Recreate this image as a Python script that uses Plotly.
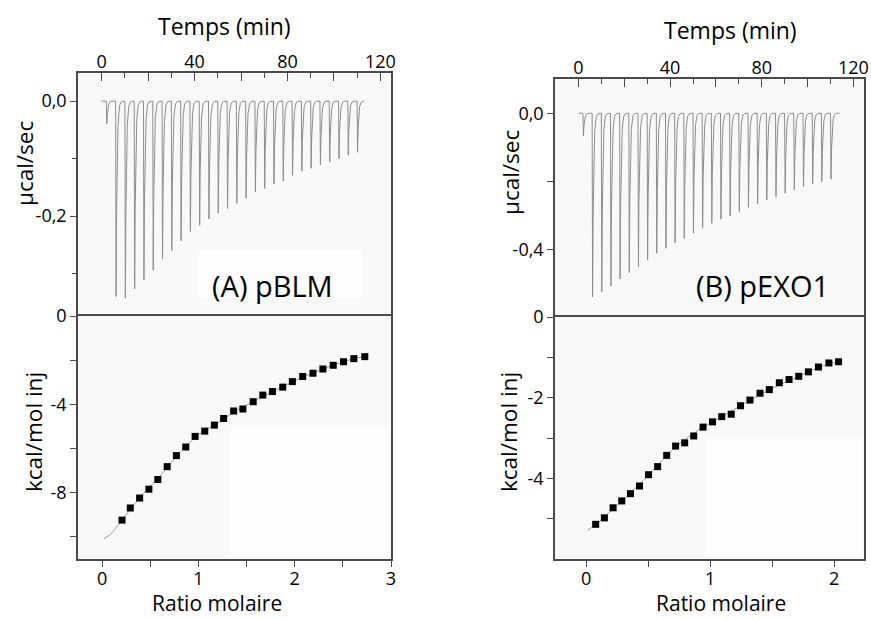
import numpy as np
import plotly.graph_objects as go

# ---------------- data ----------------
# Thermograms (injection time in min, peak depth in µcal/sec)
inj_time_A = [2, 6, 10, 14, 18, 22, 26, 30, 34, 38, 42, 46, 50, 54, 58, 62, 66, 70, 74, 78, 82, 86, 90, 94, 98, 102, 106, 110]
peak_A = [-0.039, -0.340, -0.343, -0.327, -0.311, -0.294, -0.275, -0.260, -0.243, -0.227, -0.216, -0.205, -0.195, -0.187,
          -0.178, -0.169, -0.158, -0.152, -0.144, -0.139, -0.129, -0.122, -0.117, -0.111, -0.106, -0.100, -0.094, -0.089]
end_time_A = 113

inj_time_B = [2, 6, 10, 14, 18, 22, 26, 30, 34, 38, 42, 46, 50, 54, 58, 62, 66, 70, 74, 78, 82, 86, 90, 94, 98, 102, 106, 110]
peak_B = [-0.066, -0.537, -0.522, -0.505, -0.485, -0.466, -0.449, -0.430, -0.410, -0.395, -0.379, -0.366, -0.351, -0.335,
          -0.322, -0.310, -0.301, -0.288, -0.275, -0.266, -0.254, -0.244, -0.234, -0.224, -0.215, -0.207, -0.200, -0.193]
end_time_B = 114

# Binding isotherms (molar ratio, kcal/mol of injectant)
ratio_A = [0.207, 0.293, 0.390, 0.486, 0.579, 0.676, 0.772, 0.869, 0.966, 1.066, 1.166, 1.262, 1.366, 1.462, 1.569,
           1.669, 1.769, 1.876, 1.976, 2.083, 2.190, 2.293, 2.400, 2.507, 2.614, 2.728]
heat_A = [-9.24, -8.69, -8.24, -7.84, -7.40, -6.82, -6.32, -5.93, -5.45, -5.21, -4.94, -4.64, -4.30, -4.21, -3.88,
          -3.58, -3.42, -3.22, -2.97, -2.74, -2.59, -2.40, -2.23, -2.07, -1.93, -1.84]
fit_ratio_A = [0.02, 0.086, 0.138, 0.207, 0.40, 0.60, 0.80, 1.00, 1.20, 1.40, 1.60, 1.80, 2.00, 2.20, 2.40, 2.60, 2.73]
fit_heat_A = [-10.07, -9.89, -9.62, -9.24, -8.18, -7.25, -6.22, -5.38, -4.85, -4.27, -3.80, -3.38, -2.93, -2.57, -2.23, -1.95, -1.83]

ratio_B = [0.078, 0.148, 0.218, 0.288, 0.358, 0.431, 0.504, 0.577, 0.650, 0.722, 0.795, 0.868, 0.943, 1.019, 1.094,
           1.170, 1.245, 1.321, 1.402, 1.477, 1.558, 1.636, 1.714, 1.792, 1.873, 1.957, 2.035]
heat_B = [-5.14, -4.98, -4.73, -4.56, -4.38, -4.19, -3.91, -3.71, -3.43, -3.20, -3.12, -2.95, -2.73, -2.60, -2.47,
          -2.41, -2.20, -2.06, -1.89, -1.80, -1.63, -1.55, -1.47, -1.36, -1.24, -1.14, -1.11]
fit_ratio_B = [0.013, 0.078, 0.30, 0.50, 0.70, 0.90, 1.10, 1.30, 1.50, 1.70, 1.90, 2.035]
fit_heat_B = [-5.29, -5.14, -4.53, -3.93, -3.28, -2.82, -2.46, -2.10, -1.77, -1.49, -1.22, -1.11]

# tick labels
time_tickvals = [0, 20, 40, 60, 80, 100, 120]
time_ticktext = ["0", "", "40", "", "80", "", "120"]
time_minor = [10, 30, 50, 70, 90, 110]
powA_tickvals = [0.0, -0.2]
powA_ticktext = ["0,0", "-0,2"]
powA_minor = [-0.1, -0.3]
powB_tickvals = [0.0, -0.2, -0.4]
powB_ticktext = ["0,0", "", "-0,4"]
heatA_tickvals = [0, -2, -4, -6, -8, -10]
heatA_ticktext = ["0", "", "-4", "", "-8", ""]
heatB_tickvals = [0, -1, -2, -3, -4, -5]
heatB_ticktext = ["0", "", "-2", "", "-4", ""]
ratioA_tickvals = [0, 0.5, 1, 1.5, 2, 2.5, 3]
ratioA_ticktext = ["0", "", "1", "", "2", "", "3"]
ratioB_tickvals = [0, 0.5, 1, 1.5, 2]
ratioB_ticktext = ["0", "", "1", "", "2"]


def thermogram(times, depths, t_end):
    t = np.arange(0, t_end, 0.02)
    y = np.zeros_like(t)
    rise = 0.2
    tau = 0.4
    for ti, d in zip(times, depths):
        m1 = (t >= ti) & (t < ti + rise)
        y[m1] += d * (t[m1] - ti) / rise
        m2 = t >= ti + rise
        y[m2] += d * np.exp(-(t[m2] - ti - rise) / tau)
    return t, y


W, H = 871, 619
def fx(px):
    return px / W
def fy(py):
    return 1 - py / H

FONT = "Open Sans"
LINE = "#4a4a4a"
TICKFONT = dict(family=FONT, size=18, color="black")

fig = go.Figure()

tA, yA = thermogram(inj_time_A, peak_A, end_time_A)
tB, yB = thermogram(inj_time_B, peak_B, end_time_B)

fig.add_trace(go.Scatter(x=tA, y=yA, mode="lines", line=dict(color="#8c8c8c", width=1), xaxis="x", yaxis="y", showlegend=False))
fig.add_trace(go.Scatter(x=fit_ratio_A, y=fit_heat_A, mode="lines", line=dict(color="#a0a0a0", width=1, shape="spline"),
                         xaxis="x2", yaxis="y2", showlegend=False))
fig.add_trace(go.Scatter(x=ratio_A, y=heat_A, mode="markers", marker=dict(symbol="square", size=7, color="black"),
                         xaxis="x2", yaxis="y2", showlegend=False))
fig.add_trace(go.Scatter(x=tB, y=yB, mode="lines", line=dict(color="#8c8c8c", width=1), xaxis="x3", yaxis="y3", showlegend=False))
fig.add_trace(go.Scatter(x=fit_ratio_B, y=fit_heat_B, mode="lines", line=dict(color="#a0a0a0", width=1, shape="spline"),
                         xaxis="x4", yaxis="y4", showlegend=False))
fig.add_trace(go.Scatter(x=ratio_B, y=heat_B, mode="markers", marker=dict(symbol="square", size=7, color="black"),
                         xaxis="x4", yaxis="y4", showlegend=False))


def axis(**kw):
    base = dict(showgrid=False, zeroline=False, showline=True, linecolor=LINE, linewidth=1.5,
                tickcolor=LINE, tickwidth=1.4, tickfont=TICKFONT, ticks="outside", ticklen=6,
                mirror=True, tickmode="array", automargin=False)
    base.update(kw)
    return base


def inside(**kw):
    base = dict(showgrid=False, zeroline=False, showline=False, ticks="inside", ticklen=6,
                tickcolor=LINE, tickwidth=1.4, showticklabels=False, tickmode="array", automargin=False)
    base.update(kw)
    return base


dAx = [fx(78), fx(391)]
dBx = [fx(555), fx(864)]
dAtop = [fy(316), fy(73)]
dAbot = [fy(559), fy(316)]
dBtop = [fy(317), fy(79)]
dBbot = [fy(559), fy(317)]

xr_time = [-10.2, 124.6]
yrA_top = [-0.374, 0.049]
yrB_top = [-0.596, 0.100]
xrA_bot = [-0.25, 3.0]
xrB_bot = [-0.25, 2.24]
yrA_bot = [-11, 0]
yrB_bot = [-6, 0]

minor_time = dict(tickvals=time_minor, ticks="inside", ticklen=5, tickcolor=LINE, tickwidth=1.4)

fig.update_layout(
    width=W, height=H, margin=dict(l=0, r=0, t=0, b=0, pad=0, autoexpand=False),
    paper_bgcolor="white", plot_bgcolor="#f8f8f8",
    showlegend=False,
    xaxis=axis(domain=dAx, anchor="y", side="top", range=xr_time, tickvals=time_tickvals, mirror=False,
               ticktext=time_ticktext, ticks="inside", ticklen=8, minor=minor_time, ticklabelstandoff=-4),
    yaxis=axis(domain=dAtop, anchor="x", range=yrA_top, tickvals=powA_tickvals, ticktext=powA_ticktext,
               minor=dict(tickvals=powA_minor, ticks="outside", ticklen=4, tickcolor=LINE, tickwidth=1.4)),
    xaxis2=axis(domain=dAx, anchor="y2", range=xrA_bot, tickvals=ratioA_tickvals, ticktext=ratioA_ticktext,
                ticklabelstandoff=-3),
    yaxis2=axis(domain=dAbot, anchor="x2", range=yrA_bot, tickvals=heatA_tickvals, ticktext=heatA_ticktext),
    xaxis3=axis(domain=dBx, anchor="y3", side="top", range=xr_time, tickvals=time_tickvals, mirror=False,
                ticktext=time_ticktext, ticks="inside", ticklen=8, minor=minor_time, ticklabelstandoff=-4),
    yaxis3=axis(domain=dBtop, anchor="x3", range=yrB_top, tickvals=powB_tickvals, ticktext=powB_ticktext),
    xaxis4=axis(domain=dBx, anchor="y4", range=xrB_bot, tickvals=ratioB_tickvals, ticktext=ratioB_ticktext,
                ticklabelstandoff=-3),
    yaxis4=axis(domain=dBbot, anchor="x4", range=yrB_bot, tickvals=heatB_tickvals, ticktext=heatB_ticktext),
    # inside ticks on mirrored sides
    yaxis5=inside(overlaying="y", anchor="x", side="right", range=yrA_top, tickvals=powA_tickvals + powA_minor),
    yaxis6=inside(overlaying="y2", anchor="x2", side="right", range=yrA_bot, tickvals=heatA_tickvals),
    yaxis7=inside(overlaying="y3", anchor="x3", side="right", range=yrB_top, tickvals=powB_tickvals),
    yaxis8=inside(overlaying="y4", anchor="x4", side="right", range=yrB_bot, tickvals=heatB_tickvals),
    xaxis5=inside(overlaying="x2", anchor="y2", side="top", range=xrA_bot, tickvals=ratioA_tickvals),
    xaxis6=inside(overlaying="x4", anchor="y4", side="top", range=xrB_bot, tickvals=ratioB_tickvals),
)

# faint lighter patches seen in the scanned background
patches = [(197, 250, 362, 298), (230, 427, 389, 557), (705, 437, 862, 557)]
for x0, y0, x1, y1 in patches:
    fig.add_shape(type="rect", xref="paper", yref="paper", x0=fx(x0), x1=fx(x1), y0=fy(y1), y1=fy(y0),
                  fillcolor="#fdfdfd", line=dict(width=0), layer="below")


def ann(text, x, y, size, angle=0, yanchor="middle"):
    fig.add_annotation(text=text, x=fx(x), y=fy(y), xref="paper", yref="paper", showarrow=False,
                       xanchor="center", yanchor=yanchor, textangle=angle,
                       font=dict(family=FONT, size=size, color="black"))


ann("Temps (min)", 225, 26, 23)
ann("Temps (min)", 730, 30, 23)
ann("µcal/sec", 24, 164, 22.5, -90)
ann("µcal/sec", 510, 172, 22.5, -90)
ann("kcal/mol inj", 33, 432, 22.5, -90)
ann("kcal/mol inj", 508, 432, 22.5, -90)
ann("Ratio molaire", 217, 619, 21, yanchor="bottom")
ann("Ratio molaire", 721, 619, 21, yanchor="bottom")
ann("(A) pBLM", 272, 285, 29)
ann("(B) pEXO1", 762, 285, 29)

fig.write_html("out.html", config={"displayModeBar": False},
               post_script="document.body.style.margin='0';document.body.style.overflow='hidden';")
